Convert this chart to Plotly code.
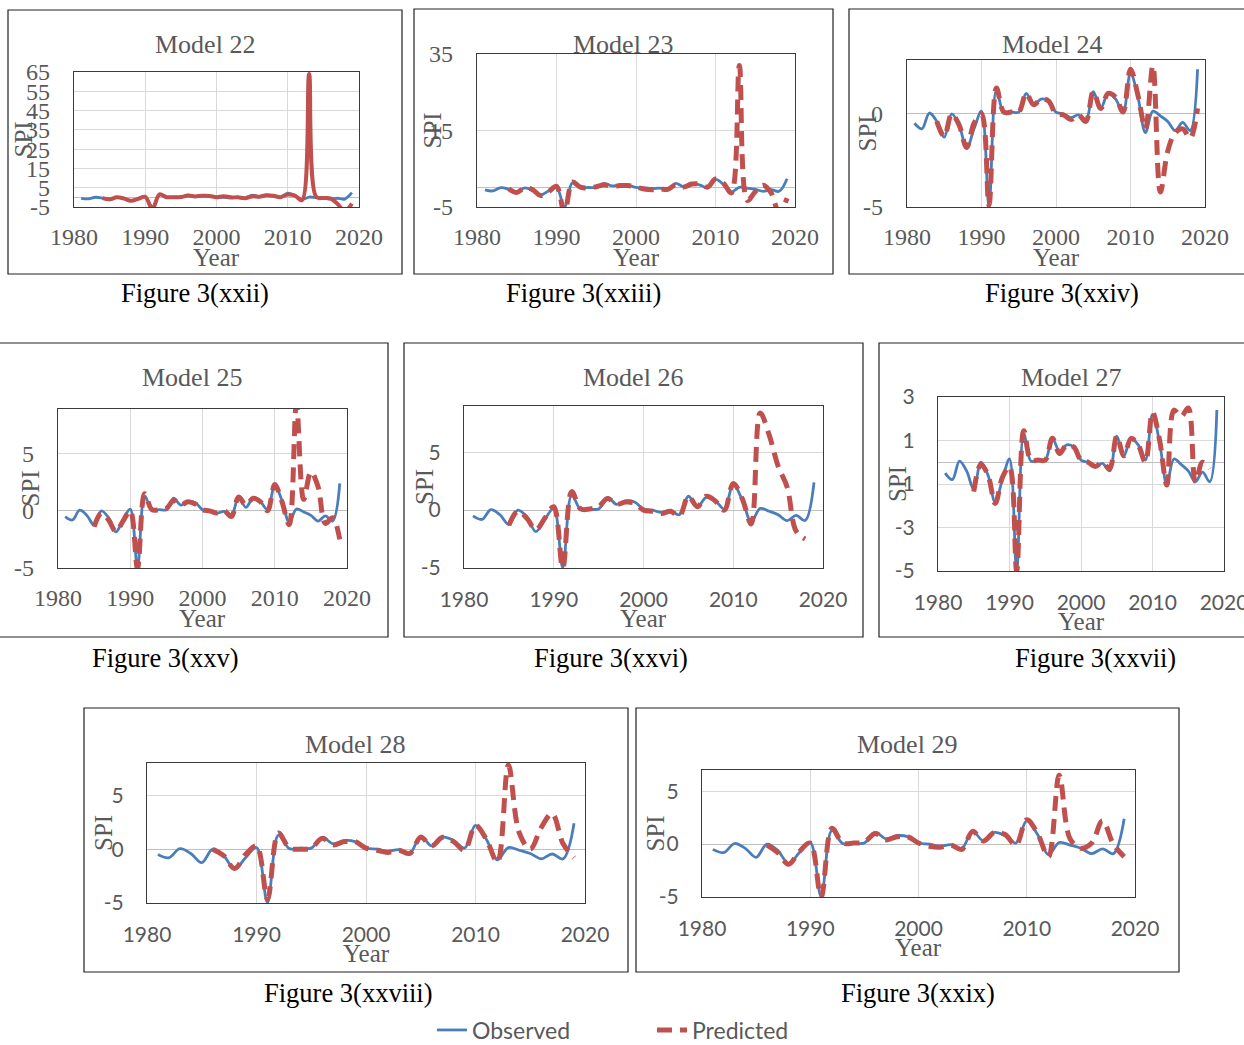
import plotly.graph_objects as go

# ---------------- data ----------------
obs_years = list(range(1981, 2020))
observed = [-0.5, -0.8, 0.05, -0.4, -1.25, 0.0, -0.6, -1.85, -0.8, 0.15,
            -4.95, 1.3, 0.05, 0.1, 0.1, 1.1, 0.5, 0.8, 0.7, 0.1,
            0.0, -0.2, -0.05, -0.4, 1.2, 0.3, 1.1, 0.8, 0.1, 2.2,
            0.9, -1.0, 0.15, -0.1, -0.4, -0.9, -0.45, -0.9, 2.4]

model_names = ["Model 22", "Model 23", "Model 24", "Model 25",
               "Model 26", "Model 27", "Model 28", "Model 29"]
captions = ["Figure 3(xxii)", "Figure 3(xxiii)", "Figure 3(xxiv)", "Figure 3(xxv)",
            "Figure 3(xxvi)", "Figure 3(xxvii)", "Figure 3(xxviii)", "Figure 3(xxix)"]

pred_start = [1984, 1984, 1984, 1985, 1985, 1985, 1986, 1986]

pred_22 = [-0.4, -1.0, 0.0, -0.6, -1.8, -0.8, 0.3, -6.0, 1.5, 0.1,
           0.1, 0.2, 0.9, 0.5, 0.8, 0.7, 0.1, 0.6, 0.0, 0.0,
           -0.4, 0.5, 0.3, 1.1, 0.8, 0.1, 1.5, 0.9, -1.5, 64.0,
           0.2, -0.3, -0.5, -3.5, -7.0, -3.3]
pred_23 = [-0.2, -1.2, 0.0, -0.5, -2.0, -1.0, 0.4, -6.5, 1.5, 0.2,
           0.0, 0.3, 0.8, 0.3, 0.6, 0.6, 0.2, -0.3, -0.5, -0.3,
           -0.4, 0.8, 0.2, 1.0, 1.0, 0.2, 2.3, 1.2, -1.3, 32.0,
           -3.3, -1.0, 0.7, -1.3, -6.5, -2.7]
pred_24 = [-0.4, -1.2, 0.0, -0.6, -1.8, -0.5, 0.0, -4.9, 1.4, 0.1,
           0.1, 0.1, 1.1, 0.5, 0.8, 0.7, 0.0, -0.05, -0.3, -0.05,
           -0.4, 1.2, 0.3, 1.1, 0.9, 0.1, 2.4, 1.0, -0.8, 2.6,
           -4.2, -2.0, -1.0, -0.8, -1.3, 0.3]
pred_25 = [-1.4, -0.2, -0.8, -1.8, -0.9, 0.0, -5.0, 1.5, 0.1, 0.1,
           0.2, 0.9, 0.5, 0.8, 0.6, 0.1, 0.0, -0.2, 0.0, -0.5,
           1.2, 0.5, 1.1, 0.8, 0.0, 2.3, 0.8, -1.2, 9.3, 1.0,
           3.4, 2.1, -1.1, -0.6, -2.5]
pred_26 = [-1.3, -0.1, -0.7, -1.7, -0.7, 0.3, -5.0, 1.6, 0.1, 0.1,
           0.3, 1.0, 0.5, 0.7, 0.6, 0.0, -0.1, -0.3, -0.1, -0.5,
           1.2, 0.3, 1.2, 0.8, 0.0, 2.3, 1.0, -1.2, 8.4, 6.5,
           3.8, 2.0, -1.8, -2.5]
pred_27 = [-1.35, -0.1, -0.6, -1.9, -0.7, -0.2, -5.0, 1.45, 0.1, 0.1,
           0.1, 1.1, 0.4, 0.8, 0.7, 0.1, 0.0, -0.2, 0.0, -0.3,
           1.2, 0.3, 1.1, 0.8, 0.0, 2.3, 1.0, -1.05, 2.4, 2.1,
           2.5, -0.9, 0.0, -0.3]
pred_28 = [0.0, -0.6, -1.8, -0.5, 0.3, -4.6, 1.5, 0.1, 0.0, 0.1,
           1.0, 0.4, 0.7, 0.7, 0.1, -0.1, -0.3, -0.1, -0.4, 1.1,
           0.3, 1.1, 0.7, -0.1, 2.2, 0.9, -1.2, 7.8, 1.5, 0.0,
           2.0, 3.3, 0.5, -0.8]
pred_29 = [-0.1, -0.8, -1.9, -0.7, 0.1, -5.0, 1.5, 0.1, 0.1, 0.2,
           1.0, 0.4, 0.7, 0.7, 0.1, -0.2, -0.3, -0.1, -0.5, 1.2,
           0.3, 1.1, 0.9, -0.1, 2.3, 1.0, -1.2, 6.5, 0.5, -0.4,
           0.1, 2.2, 0.0, -1.2]
predicted = [pred_22, pred_23, pred_24, pred_25, pred_26, pred_27, pred_28, pred_29]

y_ranges = [[-5, 65], [-5, 35], [-5, 2.9], [-5, 8.9], [-5, 9.0], [-5, 3], [-5, 8], [-5, 7]]
y_dticks = [10, 20, 5, 5, 5, 2, 5, 5]
x_ticks = [1980, 1990, 2000, 2010, 2020]

# ---------------- layout geometry (pixels) ----------------
W, H = 1244, 1045
plot_boxes = [  # x0, x1, y0(top), y1(bottom)
    (74, 359, 72, 207), (477, 795, 54, 207), (907, 1205, 60, 207),
    (58, 347, 409, 568), (464, 823, 406, 568), (938, 1224, 397, 571),
    (147, 585, 763, 903), (702, 1135, 770, 897)]
panel_boxes = [
    (8, 10, 402, 274), (414, 9, 833, 274), (849, 9, 1252, 274),
    (-5, 343, 388, 637), (404, 343, 863, 637), (879, 343, 1252, 637),
    (84, 708, 628, 972), (636, 708, 1179, 972)]
title_pos = [(205, 44), (623, 44), (1052, 44), (192, 378), (633, 378), (1071, 378),
             (355, 744), (907, 744)]
caption_pos = [(195, 293), (583, 293), (1062, 293), (165, 658), (611, 658), (1095, 658),
               (349, 993), (918, 993)]
spi_offset = [51, 45, 40, 28, 40, 41, 44, 47]
sans_ticks = [False, False, False, False, True, True, True, True]

BLUE = "#4A7EBB"
RED = "#C0504D"
GRID = "#D9D9D9"
BORDER = "#3A3A3A"
LABEL = "#595959"
SERIF = "Liberation Serif"
SANS = "Lato"


def px(x):
    return x / W


def py(y):
    return 1 - y / H


def y_tick_values(rng, step):
    vals = []
    v = rng[0]
    while v <= rng[1] + 1e-9:
        vals.append(v)
        v += step
    return vals


fig = go.Figure()
annotations = []
shapes = []
layout_axes = {}

for i in range(8):
    n = i + 1
    xa = "x" if n == 1 else f"x{n}"
    ya = "y" if n == 1 else f"y{n}"
    fig.add_trace(go.Scatter(
        x=obs_years, y=observed, mode="lines", name="Observed",
        line=dict(color=BLUE, width=2.8, shape="spline", smoothing=1.0),
        xaxis=xa, yaxis=ya, showlegend=(n == 1), legendgroup="obs",
        hoverinfo="x+y"))
    pyears = list(range(pred_start[i], pred_start[i] + len(predicted[i])))
    solid = (n == 1)
    fig.add_trace(go.Scatter(
        x=pyears, y=predicted[i], mode="lines", name="Predicted",
        line=dict(color=RED, width=4 if solid else 5, dash="solid" if solid else "15px,8px",
                  shape="spline", smoothing=1.0),
        xaxis=xa, yaxis=ya, showlegend=(n == 2), legendgroup="pred",
        hoverinfo="x+y"))

    x0, x1, y0, y1 = plot_boxes[i]
    if sans_ticks[i]:
        tfont = dict(family=SANS, size=21, color=LABEL)
        xstand = 13
    else:
        tfont = dict(family=SERIF, size=24, color=LABEL)
        xstand = 8
    yt = y_tick_values(y_ranges[i], y_dticks[i])
    layout_axes["xaxis" if n == 1 else f"xaxis{n}"] = dict(
        domain=[px(x0), px(x1)], anchor=ya, range=[1980, 2020],
        tickmode="array", tickvals=x_ticks, ticktext=[str(t) for t in x_ticks],
        showgrid=True, gridcolor=GRID, gridwidth=1,
        showline=True, mirror=True, linecolor=BORDER, linewidth=1.3,
        zeroline=False, ticks="", tickfont=tfont, ticklabelstandoff=xstand,
        ticklabeloverflow="allow", automargin=False, fixedrange=True)
    layout_axes["yaxis" if n == 1 else f"yaxis{n}"] = dict(
        domain=[py(y1), py(y0)], anchor=xa, range=y_ranges[i],
        tickmode="array", tickvals=yt, ticktext=[f"{v:g}" for v in yt],
        showgrid=True, gridcolor=GRID, gridwidth=1,
        zeroline=True, zerolinecolor="#BFBFBF", zerolinewidth=1.3,
        showline=True, mirror=True, linecolor=BORDER, linewidth=1.3,
        ticks="", tickfont=tfont, ticklabelstandoff=18,
        ticklabeloverflow="allow", automargin=False, fixedrange=True)

    # panel frame
    bx0, by0, bx1, by1 = panel_boxes[i]
    shapes.append(dict(type="rect", xref="paper", yref="paper",
                       x0=px(bx0), x1=px(bx1), y0=py(by1), y1=py(by0),
                       line=dict(color="#222222", width=1.2), layer="below"))
    # chart title
    tx, ty = title_pos[i]
    annotations.append(dict(text=model_names[i], x=px(tx), y=py(ty), xref="paper", yref="paper",
                            showarrow=False, xanchor="center", yanchor="middle",
                            font=dict(family=SERIF, size=26, color=LABEL)))
    # caption
    cx, cy = caption_pos[i]
    annotations.append(dict(text=captions[i], x=px(cx), y=py(cy), xref="paper", yref="paper",
                            showarrow=False, xanchor="center", yanchor="middle",
                            font=dict(family=SERIF, size=26.5, color="#000000")))
    # axis titles
    annotations.append(dict(text="Year", x=0.5, y=0, xref=f"{xa} domain", yref=f"{ya} domain",
                            yshift=-50, showarrow=False, xanchor="center", yanchor="middle",
                            font=dict(family=SERIF, size=25, color=LABEL)))
    annotations.append(dict(text="SPI", x=0, y=0.5, xref=f"{xa} domain", yref=f"{ya} domain",
                            xshift=-spi_offset[i], textangle=-90, showarrow=False,
                            xanchor="center", yanchor="middle",
                            font=dict(family=SERIF, size=25, color=LABEL)))

fig.update_layout(
    width=W, height=H,
    margin=dict(l=0, r=0, t=0, b=0, pad=0, autoexpand=False),
    paper_bgcolor="white", plot_bgcolor="white",
    showlegend=True,
    legend=dict(orientation="h", x=px(652), y=py(1030), xanchor="center", yanchor="middle",
                font=dict(family=SANS, size=23, color=LABEL),
                entrywidth=175, entrywidthmode="pixels",
                bgcolor="rgba(0,0,0,0)", itemclick=False, itemdoubleclick=False),
    annotations=annotations, shapes=shapes,
    **layout_axes)

fig.write_html(
    "out.html",
    config={"displayModeBar": False},
    post_script="document.body.style.margin='0px';document.body.style.overflow='hidden';")
